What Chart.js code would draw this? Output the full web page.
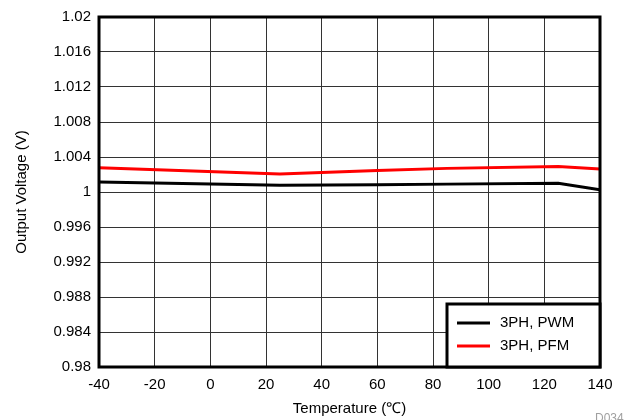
<!DOCTYPE html>
<html><head><meta charset="utf-8">
<script src="https://cdn.jsdelivr.net/npm/chart.js@4"></script>
<style>html,body{margin:0;padding:0;background:#fff}#wrap{width:625px;height:420px}</style>
</head><body><div id="wrap"><canvas id="c" width="625" height="420"></canvas></div>
<script>
const temperatures = [-40, 25, 60, 85, 125, 140];
const pwmValues = [1.00115, 1.00077, 1.00082, 1.00090, 1.00100, 1.00025];
const pfmValues = [1.00278, 1.00206, 1.00245, 1.00270, 1.00292, 1.00263];
const seriesLabels = ['3PH, PWM', '3PH, PFM'];
const seriesColors = ['#000000', '#ff0000'];
const xTicks = [-40, -20, 0, 20, 40, 60, 80, 100, 120, 140];
const yTicks = [0.98, 0.984, 0.988, 0.992, 0.996, 1, 1.004, 1.008, 1.012, 1.016, 1.02];
const xTitle = 'Temperature (℃)';
const yTitle = 'Output Voltage (V)';
const docId = 'D034';

const FONT = 'Arial, "Liberation Sans", sans-serif';

const framePlugin = {
  id: 'frame',
  afterDatasetsDraw(chart) {
    const {ctx, chartArea: a} = chart;
    ctx.save();
    ctx.strokeStyle = '#000';
    ctx.lineWidth = 3;
    ctx.strokeRect(a.left, a.top, a.right - a.left, a.bottom - a.top);
    // legend box
    const bx = 447, by = 304, bw = a.right - 447, bh = a.bottom - 304;
    ctx.fillStyle = '#fff';
    ctx.fillRect(bx, by, bw, bh);
    ctx.strokeRect(bx, by, bw, bh);
    ctx.font = '15px ' + FONT;
    ctx.textBaseline = 'middle';
    chart.data.datasets.forEach((ds, i) => {
      const y = by + 19 + i * 23;
      ctx.strokeStyle = ds.borderColor;
      ctx.lineWidth = 3;
      ctx.beginPath();
      ctx.moveTo(bx + 10, y);
      ctx.lineTo(bx + 43, y);
      ctx.stroke();
      ctx.fillStyle = '#000';
      ctx.fillText(ds.label, bx + 53, y);
    });
    ctx.fillStyle = '#a0a0a0';
    ctx.font = '12px ' + FONT;
    ctx.textBaseline = 'alphabetic';
    ctx.fillText(docId, 595, 422);
    ctx.restore();
  }
};

new Chart(document.getElementById('c'), {
  type: 'line',
  data: {
    datasets: [
      {label: seriesLabels[0], data: temperatures.map((t, i) => ({x: t, y: pwmValues[i]})), borderColor: seriesColors[0], borderWidth: 3, pointRadius: 0, tension: 0},
      {label: seriesLabels[1], data: temperatures.map((t, i) => ({x: t, y: pfmValues[i]})), borderColor: seriesColors[1], borderWidth: 3, pointRadius: 0, tension: 0}
    ]
  },
  options: {
    responsive: false,
    devicePixelRatio: 1,
    animation: false,
    layout: {padding: {left: 0, top: 13, right: 25, bottom: 0}},
    plugins: {legend: {display: false}, tooltip: {enabled: false}},
    scales: {
      x: {
        type: 'linear', min: -40, max: 140,
        afterBuildTicks: s => { s.ticks = xTicks.map(v => ({value: v})); },
        afterFit: s => { s.height = 53; },
        grid: {color: '#333', lineWidth: 1, drawTicks: false},
        border: {display: false},
        ticks: {color: '#000', font: {family: FONT, size: 15}, padding: 9, maxRotation: 0},
        title: {display: true, text: xTitle, color: '#000', font: {family: FONT, size: 15}, padding: {top: 0, bottom: 2}}
      },
      y: {
        type: 'linear', min: 0.98, max: 1.02,
        afterBuildTicks: s => { s.ticks = yTicks.map(v => ({value: v})); },
        afterFit: s => { s.width = 99; },
        grid: {color: '#333', lineWidth: 1, drawTicks: false},
        border: {display: false},
        ticks: {color: '#000', font: {family: FONT, size: 15}, padding: 8, callback: v => String(Number(v.toFixed(3)))},
        title: {display: true, text: yTitle, color: '#000', font: {family: FONT, size: 15}, padding: {top: 13, bottom: 0}}
      }
    }
  },
  plugins: [framePlugin]
});
</script></body></html>
